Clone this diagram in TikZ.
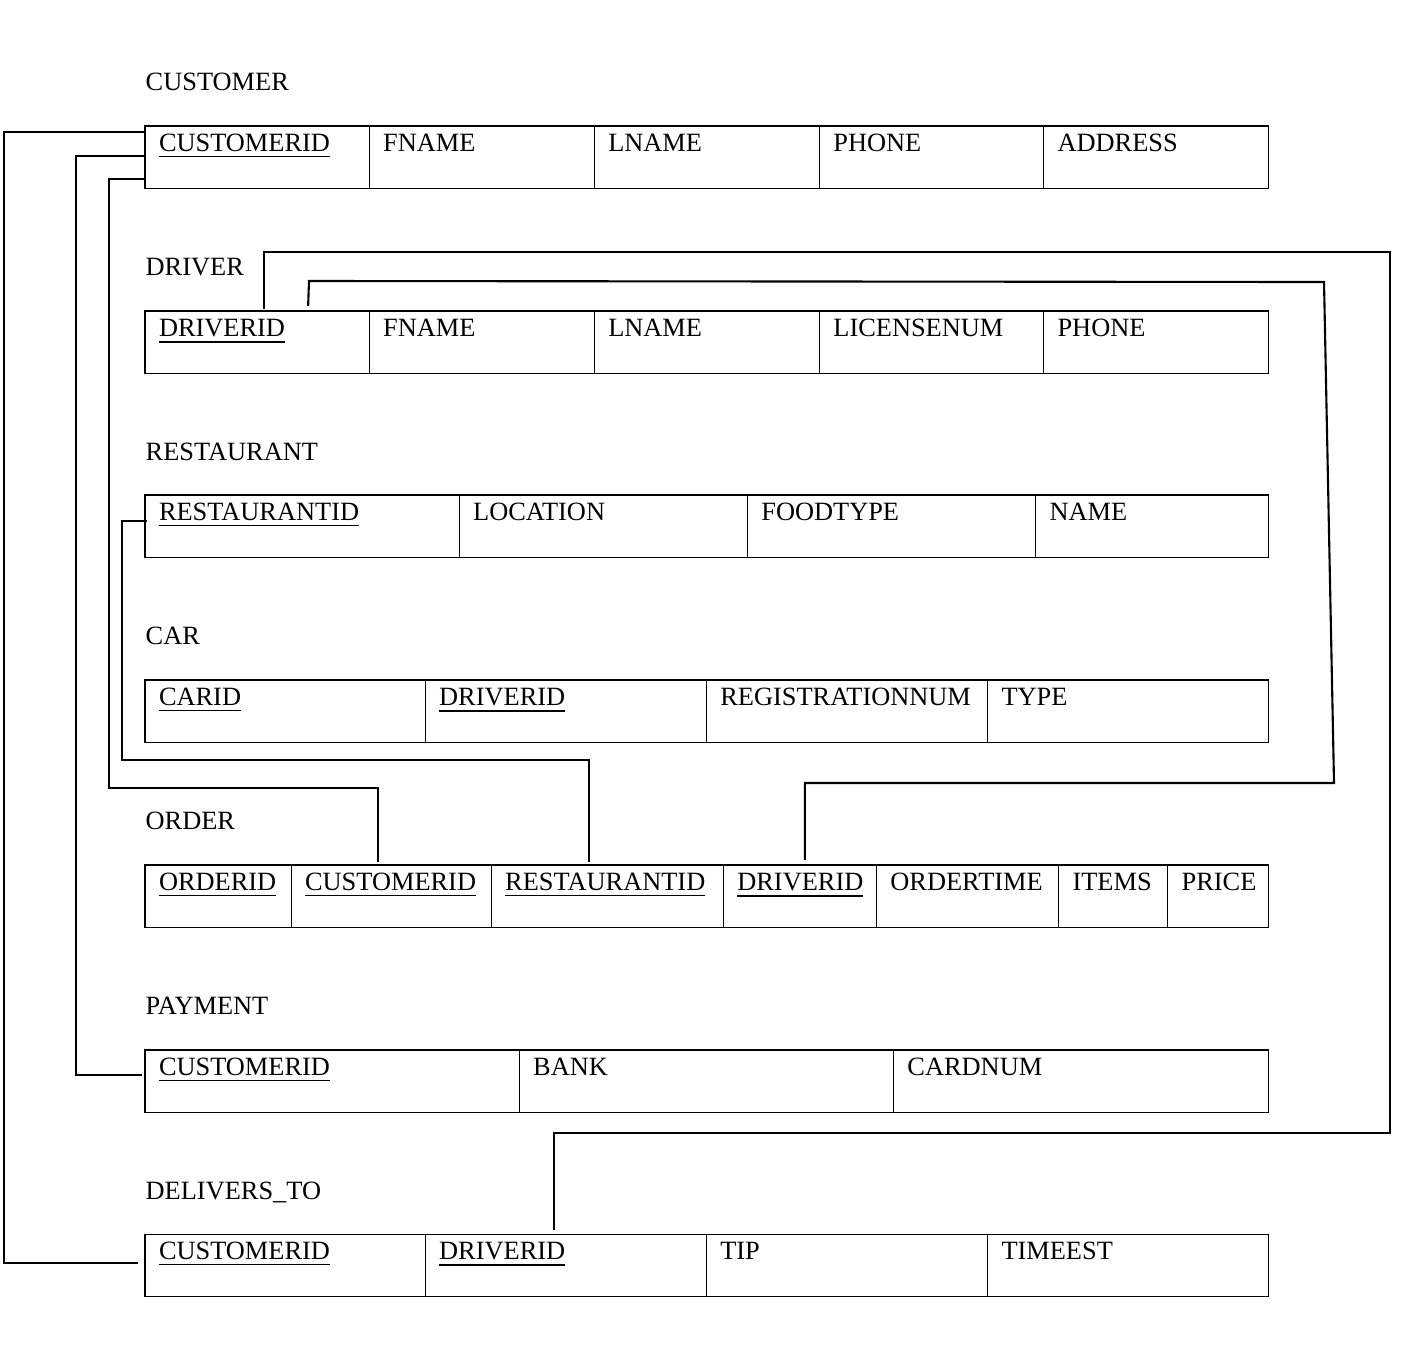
\documentclass[tikz,border=0pt]{standalone}
\usepackage{fontspec}
\setmainfont{Liberation Serif}
\usetikzlibrary{calc,positioning}
\hyphenpenalty=10000

\tikzset{
  cell/.style={draw, line width=0.3pt, anchor=north west, outer sep=0pt,
    inner xsep=0.14cm, inner ysep=0pt, text height=0.255cm, text depth=0.365cm, align=left},
  title/.style={anchor=base west, inner sep=0pt},
  fk/.style={line width=0.6pt}
}

\begin{document}
\begin{tikzpicture}[x=0.01cm, y=-0.01cm, every node/.style={font=\fontsize{7.5}{9}\selectfont}]
\useasboundingbox (0,0) rectangle (1404,1348);

% CUSTOMER
\node [title] (custT) at (145,90) {CUSTOMER};
\node [cell, text width=1.96cm] (cu1) at (145,126) {\underline{CUSTOMERID}};
\node [cell, text width=1.97cm] (cu2) at (cu1.north east) {FNAME};
\node [cell, text width=1.97cm] (cu3) at (cu2.north east) {LNAME};
\node [cell, text width=1.96cm] (cu4) at (cu3.north east) {PHONE};
\node [cell, text width=1.97cm] (cu5) at (cu4.north east) {ADDRESS};

% DRIVER
\node [title] (drvT) at (145,275) {DRIVER};
\node [cell, text width=1.96cm] (dr1) at (145,311) {\underline{DRIVERID}};
\node [cell, text width=1.97cm] (dr2) at (dr1.north east) {FNAME};
\node [cell, text width=1.97cm] (dr3) at (dr2.north east) {LNAME};
\node [cell, text width=1.96cm] (dr4) at (dr3.north east) {LICENSENUM};
\node [cell, text width=1.97cm] (dr5) at (dr4.north east) {PHONE};

% RESTAURANT
\node [title] (resT) at (145,460) {RESTAURANT};
\node [cell, text width=2.86cm] (re1) at (145,495) {\underline{RESTAURANTID}};
\node [cell, text width=2.60cm] (re2) at (re1.north east) {LOCATION};
\node [cell, text width=2.60cm] (re3) at (re2.north east) {FOODTYPE};
\node [cell, text width=2.05cm] (re4) at (re3.north east) {NAME};

% CAR
\node [title] (carT) at (145,644) {CAR};
\node [cell, text width=2.52cm] (ca1) at (145,680) {\underline{CARID}};
\node [cell, text width=2.53cm] (ca2) at (ca1.north east) {\underline{DRIVERID}};
\node [cell, text width=2.53cm] (ca3) at (ca2.north east) {REGISTRATIONNUM};
\node [cell, text width=2.53cm] (ca4) at (ca3.north east) {TYPE};

% ORDER
\node [title] (ordT) at (145,829) {ORDER};
\node [cell, text width=1.18cm] (or1) at (145,865) {\underline{ORDERID}};
\node [cell, text width=1.72cm] (or2) at (or1.north east) {\underline{CUSTOMERID}};
\node [cell, text width=2.04cm] (or3) at (or2.north east) {\underline{RESTAURANTID}};
\node [cell, text width=1.25cm] (or4) at (or3.north east) {\underline{DRIVERID}};
\node [cell, text width=1.54cm] (or5) at (or4.north east) {ORDERTIME};
\node [cell, text width=0.81cm] (or6) at (or5.north east) {ITEMS};
\node [cell, text width=0.73cm] (or7) at (or6.north east) {PRICE};

% PAYMENT
\node [title] (payT) at (145,1014) {PAYMENT};
\node [cell, text width=3.46cm] (pa1) at (145,1050) {\underline{CUSTOMERID}};
\node [cell, text width=3.46cm] (pa2) at (pa1.north east) {BANK};
\node [cell, text width=3.47cm] (pa3) at (pa2.north east) {CARDNUM};

% DELIVERS_TO
\node [title] (dtT) at (145,1199) {DELIVERS\_TO};
\node [cell, text width=2.52cm] (dt1) at (145,1234) {\underline{CUSTOMERID}};
\node [cell, text width=2.53cm] (dt2) at (dt1.north east) {\underline{DRIVERID}};
\node [cell, text width=2.53cm] (dt3) at (dt2.north east) {TIP};
\node [cell, text width=2.53cm] (dt4) at (dt3.north east) {TIMEEST};

% foreign keys
\draw [fk] ($(cu1.north west)+(0,6)$) -| (4,1263) -- ($(dt1.north west)+(-7,29)$);
\draw [fk] ($(cu1.north west)+(0,30)$) -| (76,1075) -- ($(pa1.north west)+(-3,25)$);
\draw [fk] ($(cu1.north west)+(0,53)$) -| (109,788) -| ($(or2.north)+(-13,-3)$);
\draw [fk] ($(re1.north west)+(2,26)$) -| (122,760) -| ($(or3.north)+(-18,-3)$);
\draw [fk] ($(dr1.north)+(7,-2)$) |- (1390,252) -- (1390,1133) -| ($(dt2.north)+(-12,-4)$);
\draw [fk] ($(dr1.north east)+(-61,-5)$) -- (309,281) -- (1324,282) -- (1334,783) -| ($(or4.north)+(5,-5)$);
\end{tikzpicture}
\end{document}
